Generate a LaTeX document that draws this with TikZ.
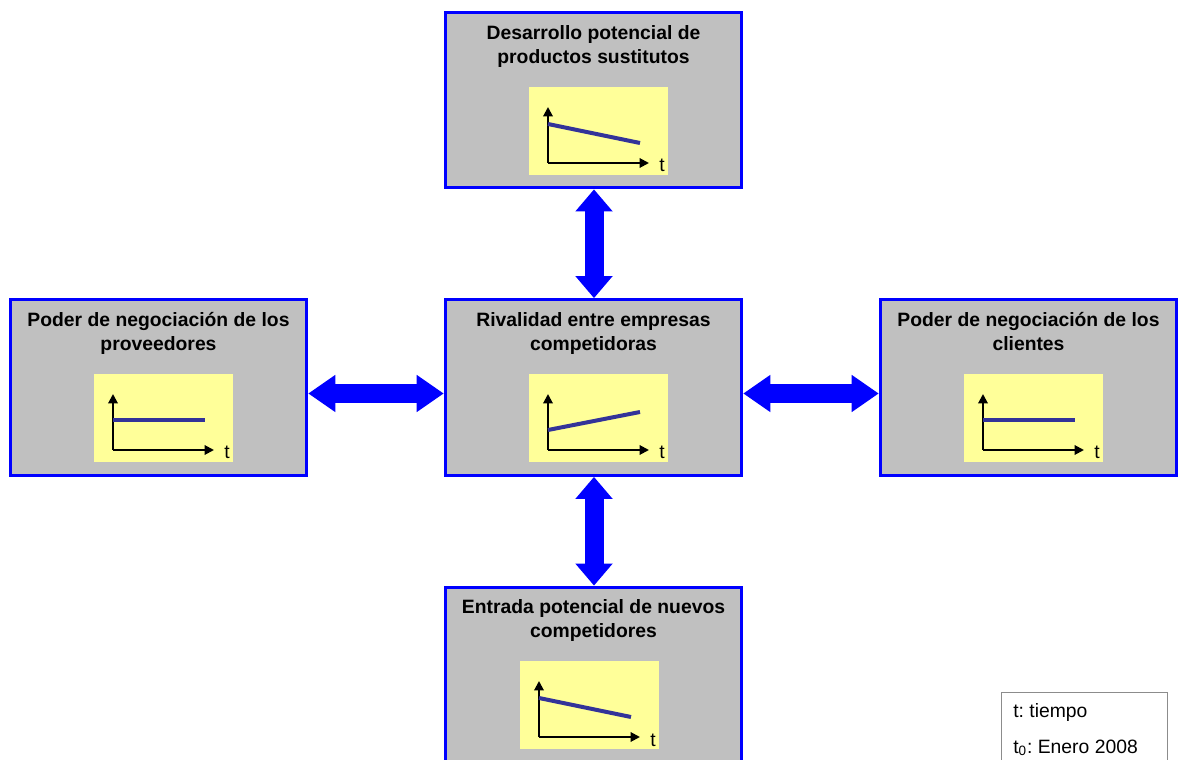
\documentclass[tikz,border=0pt]{standalone}
\usepackage{fontspec}
\setmainfont{Liberation Sans}
\usetikzlibrary{arrows.meta,positioning}
\frenchspacing

\definecolor{boxgray}{RGB}{192,192,192}
\definecolor{chartyellow}{RGB}{255,255,153}
\definecolor{trendblue}{RGB}{51,51,153}

\tikzset{
  force/.style={draw=blue, line width=0.06cm, fill=boxgray, minimum width=5.94cm, minimum height=3.52cm, inner sep=0pt},
  title/.style={anchor=north, inner sep=0pt, align=center, font=\fontsize{11}{13.6}\selectfont\bfseries},
  chart/.style={anchor=north west, fill=chartyellow, minimum width=2.78cm, minimum height=1.76cm, inner sep=0pt, outer sep=0pt},
  axis/.style={line width=0.04cm, -{Triangle[length=0.19cm,width=0.19cm]}},
  trend/.style={draw=trendblue, line width=0.08cm},
  tlabel/.style={anchor=base, inner sep=0pt, font=\fontsize{11}{13}\selectfont},
  twoway/.style={draw=blue, line width=0.38cm,
    {Triangle[length=#1,width=0.75cm,line width=0pt]}-{Triangle[length=#1,width=0.75cm,line width=0pt]}},
  legendtext/.style={anchor=base west, inner sep=0pt, font=\fontsize{11}{13}\selectfont}
}

% small t-chart: name, top left corner, start and end of trend
\newcommand{\minichart}[4]{%
  \begin{scope}[shift={#2}]
    \node[chart] (#1) at (0,0) {};
    \coordinate (#1o) at (19,76);
    \draw[axis] (#1o) -- (19,20);
    \draw[axis] (#1o) -- (120,76);
    \node[tlabel] (#1t) at (133,85) {t};
    \draw[trend] (19,#3) -- (111,#4);
  \end{scope}}

\begin{document}
\begin{tikzpicture}[x=0.02cm,y=-0.02cm]
\useasboundingbox (0,0) rectangle (1181,760);
\clip (0,0) rectangle (1181,760);

\node[force] (sust) at (593.5,100) {};
\node[force] (rival) at (593.5,387.5) {};
\node[force] (prov) at (158.5,387.5) {};
\node[force] (clie) at (1028.5,387.5) {};
\node[force] (nuev) at (593.5,675) {};

\node[title] (sustname) at (593.5,25) {Desarrollo potencial de\\productos sustitutos};
\node[title] (rivalname) at (593.5,312) {Rivalidad entre empresas\\competidoras};
\node[title] (provname) at (158.5,312) {Poder de negociación de los\\proveedores};
\node[title] (cliename) at (1028.5,312) {Poder de negociación de los\\clientes};
\node[title] (nuevname) at (593.5,599) {Entrada potencial de nuevos\\competidores};

\minichart{sustc}{(529,87)}{37}{56}
\minichart{rivalc}{(529,374)}{56}{38}
\minichart{provc}{(94,374)}{46}{46}
\minichart{cliec}{(964,374)}{46}{46}
\minichart{nuevc}{(520,661)}{37}{56}

\draw[twoway=0.44cm] ([xshift=0.01cm]sust.south) -- ([xshift=0.01cm]rival.north);
\draw[twoway=0.44cm] ([xshift=0.01cm]rival.south) -- ([xshift=0.01cm]nuev.north);
\draw[twoway=0.54cm] ([yshift=-0.12cm]prov.east) -- ([yshift=-0.12cm]rival.west);
\draw[twoway=0.54cm] ([yshift=-0.12cm]rival.east) -- ([yshift=-0.12cm]clie.west);

\node[draw=black!45, line width=0.02cm, anchor=north west, minimum width=3.32cm, minimum height=2cm, inner sep=0pt] (legend) at (1001,692) {};
\node[legendtext] (lgt) at (1013,717) {t: tiempo};
\node[legendtext] (lgtzero) at (1013,753) {t\textsubscript{0}: Enero 2008};

\end{tikzpicture}
\end{document}
